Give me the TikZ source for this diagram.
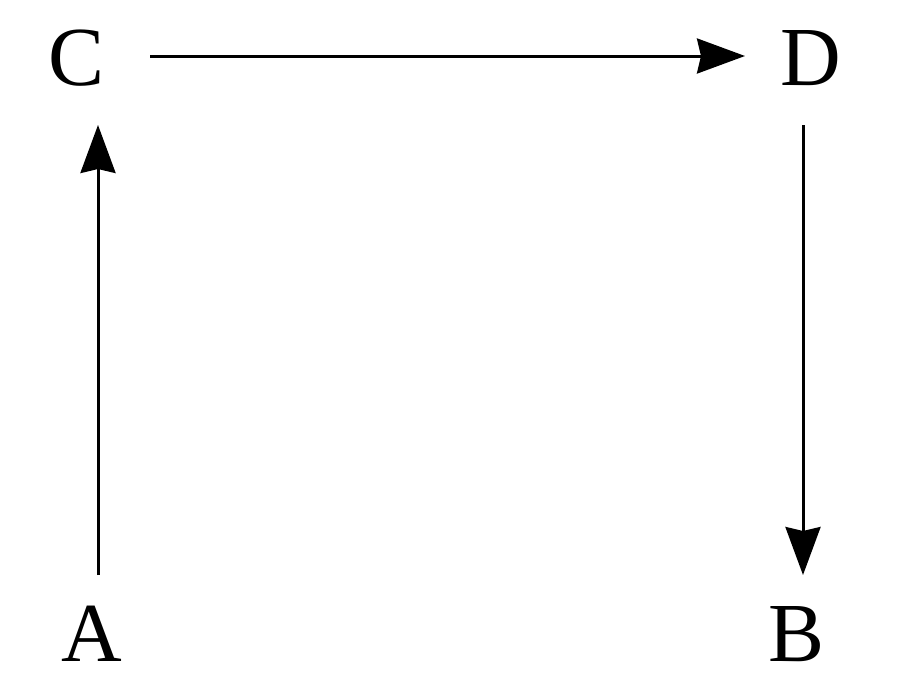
\documentclass[tikz,border=0pt]{standalone}
\usepackage{fontspec}
\setmainfont{Liberation Serif}
\usetikzlibrary{arrows.meta}
\begin{document}
\begin{tikzpicture}[x=1pt,y=-1pt,
  lbl/.style={inner sep=0pt, font=\fontsize{84}{84}\selectfont},
  arr/.style={line width=3pt, -{Stealth[length=48pt,width=35pt,inset=4pt]}}]
\useasboundingbox (0,0) rectangle (900,696);
\node[lbl] (C) at (77,58) {C};
\node[lbl] (D) at (811,58) {D};
\node[lbl] (A) at (92,634) {A};
\node[lbl] (B) at (797,634) {B};
\coordinate (c1) at (150,56);
\coordinate (d1) at (745,56);
\coordinate (a0) at (98,575);
\coordinate (c0) at (98,125);
\coordinate (d0) at (803,125);
\coordinate (b0) at (803,575);
\draw[arr] (c1) -- (d1);
\draw[arr] (a0) -- (c0);
\draw[arr] (d0) -- (b0);
\end{tikzpicture}
\end{document}
